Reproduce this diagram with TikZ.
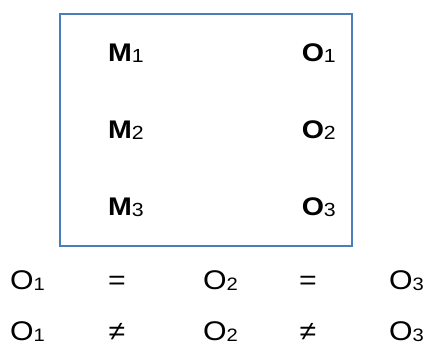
\documentclass[tikz,border=0pt]{standalone}
\usepackage{fontspec}
\setmainfont{Liberation Sans}
\definecolor{boxblue}{HTML}{4A7EBB}
\newcommand{\topsym}[2]{\scalebox{1.12}[1]{\textbf{#1}\raisebox{-1.5pt}{\fontsize{19}{19}\selectfont #2}}}
\newcommand{\botsym}[2]{\scalebox{1.12}[1]{#1\raisebox{-1.5pt}{\fontsize{18}{18}\selectfont #2}}}
\newcommand{\botop}[1]{\scalebox{1.12}[1]{#1}}
\tikzset{
  toplbl/.style={inner sep=0pt, font=\fontsize{25.5}{25.5}\selectfont},
  botlbl/.style={inner sep=0pt, font=\fontsize{27}{27}\selectfont},
  frame/.style={draw=boxblue, line width=1.6pt}
}
\begin{document}
\begin{tikzpicture}[x=1pt,y=-1pt]
\useasboundingbox (0,0) rectangle (434,346);
\node[frame, minimum width=292pt, minimum height=232pt, anchor=north west] (box) at (59,13) {};
\node[toplbl, anchor=base west] (m1) at (108,61) {\topsym{M}{1}};
\node[toplbl, anchor=base west] (m2) at (108,138) {\topsym{M}{2}};
\node[toplbl, anchor=base west] (m3) at (108,215) {\topsym{M}{3}};
\node[toplbl, anchor=base east] (o1) at (336,61) {\topsym{O}{1}};
\node[toplbl, anchor=base east] (o2) at (336,138) {\topsym{O}{2}};
\node[toplbl, anchor=base east] (o3) at (336,215) {\topsym{O}{3}};
\node[botlbl, anchor=base west] (a1) at (10,289) {\botsym{O}{1}};
\node[botlbl, anchor=base] (e1) at (117,289) {\botop{=}};
\node[botlbl, anchor=base west] (a2) at (203,289) {\botsym{O}{2}};
\node[botlbl, anchor=base] (e2) at (308,289) {\botop{=}};
\node[botlbl, anchor=base west] (a3) at (389,289) {\botsym{O}{3}};
\node[botlbl, anchor=base west] (b1) at (10,340) {\botsym{O}{1}};
\node[botlbl, anchor=base] (n1) at (117,340) {\botop{≠}};
\node[botlbl, anchor=base west] (b2) at (203,340) {\botsym{O}{2}};
\node[botlbl, anchor=base] (n2) at (308,340) {\botop{≠}};
\node[botlbl, anchor=base west] (b3) at (389,340) {\botsym{O}{3}};
\end{tikzpicture}
\end{document}
